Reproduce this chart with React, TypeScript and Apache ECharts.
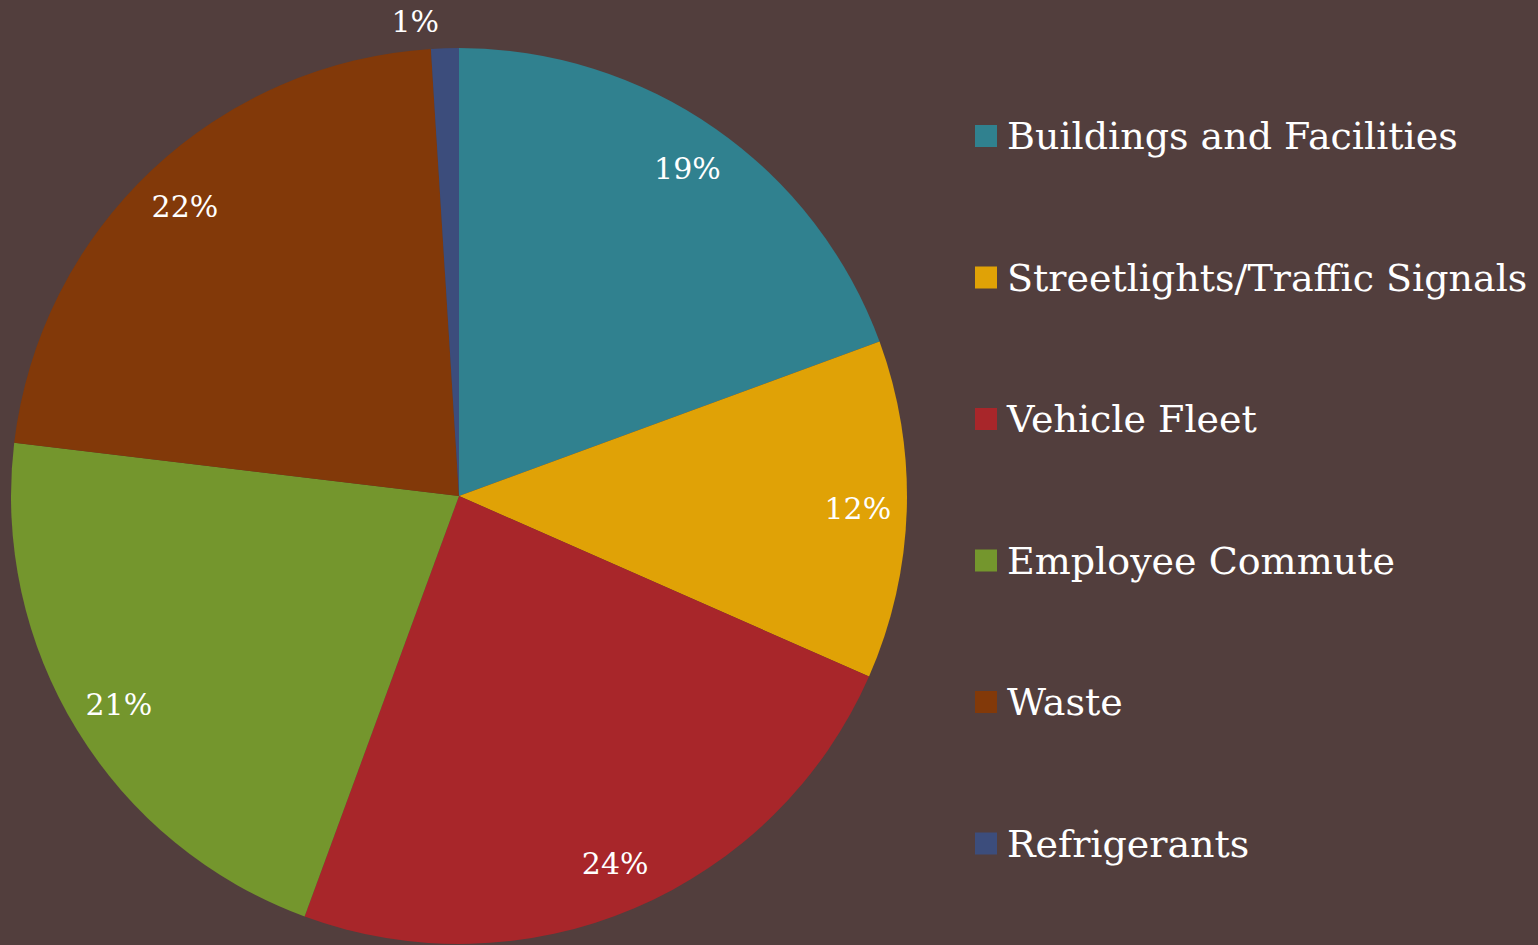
import React, { useEffect, useRef } from "react";
import * as echarts from "echarts";

const categories = [
  "Buildings and Facilities",
  "Streetlights/Traffic Signals",
  "Vehicle Fleet",
  "Employee Commute",
  "Waste",
  "Refrigerants",
];
const values = [19.4, 12.2, 24.0, 21.3, 22.1, 1.0];
const colors = ["#30818f", "#e0a206", "#a8262a", "#74962d", "#823909", "#3c4d7c"];

const FONT = "DejaVu Serif";

export default function App() {
  const ref = useRef<HTMLDivElement>(null);
  useEffect(() => {
    document.body.style.margin = "0";
    document.body.style.background = "#523e3d";
    const chart = echarts.init(ref.current!, undefined, { renderer: "svg" });
    const data = categories.map((name, i) => ({
      name,
      value: values[i],
      itemStyle: { color: colors[i] },
    }));
    const labelData = categories.map((name, i) => ({
      name,
      value: values[i],
      label:
        values[i] < 3
          ? { position: "outside" as const }
          : { position: "inside" as const },
    }));
    chart.setOption({
      animation: false,
      backgroundColor: "#523e3d",
      legend: {
        orient: "vertical",
        left: 970,
        top: 112,
        icon: "rect",
        itemWidth: 22,
        itemHeight: 22,
        itemGap: 103.5,
        selectedMode: false,
        data: categories,
        textStyle: {
          color: "#ffffff",
          fontFamily: FONT,
          fontSize: 38,
          padding: [0, 0, 0, 5],
        },
      },
      series: [
        {
          type: "pie",
          center: [459, 496],
          radius: [0, 448],
          startAngle: 90,
          clockwise: true,
          label: { show: false },
          labelLine: { show: false },
          silent: true,
          data,
        },
        {
          type: "pie",
          center: [459, 496],
          radius: [344, 448],
          startAngle: 90,
          clockwise: true,
          silent: true,
          avoidLabelOverlap: false,
          itemStyle: { color: "rgba(0,0,0,0)" },
          label: {
            show: true,
            formatter: (p: any) => Math.round(p.value) + "%",
            color: "#ffffff",
            fontFamily: FONT,
            fontSize: 30,
            distanceToLabelLine: 5,
          },
          labelLine: { show: false, length: 27, length2: 0 },
          data: labelData,
        },
      ],
    });
    return () => chart.dispose();
  }, []);
  return <div ref={ref} style={{ width: 1538, height: 945 }} />;
}
